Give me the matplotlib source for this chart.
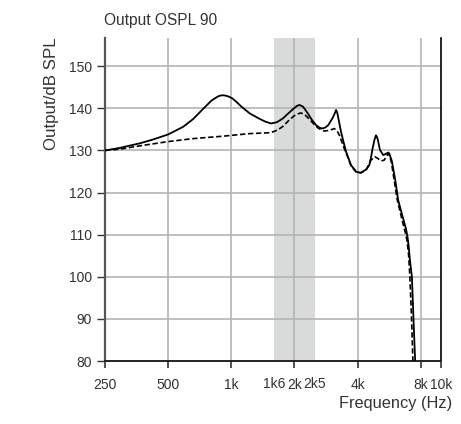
import matplotlib
matplotlib.use("Agg")
import matplotlib.pyplot as plt
from matplotlib.ticker import FixedLocator, FixedFormatter

# ---- data ----
freq_solid = [250, 294, 367, 424, 500, 589, 656, 732, 803, 862, 890, 920, 960, 1010, 1060,
              1118, 1224, 1365, 1460, 1552, 1650, 1762, 1880, 1990, 2060, 2115, 2200, 2316,
              2420, 2538, 2620, 2700, 2800, 2900, 3050, 3120, 3160, 3200, 3250, 3338, 3430,
              3527, 3725, 3950, 4155, 4400, 4550, 4640, 4720, 4820, 4897, 4950, 5000, 5117,
              5306, 5420, 5500, 5622, 5700, 5836, 6050, 6250, 6557, 6800, 6922, 7020, 7107,
              7265, 7393, 7530]
db_solid = [130.0, 130.6, 131.7, 132.6, 133.8, 135.6, 137.4, 139.8, 141.8, 142.8, 143.05,
            143.1, 142.9, 142.4, 141.5, 140.4, 138.8, 137.5, 136.8, 136.4, 136.7, 137.6,
            138.9, 140.0, 140.6, 140.8, 140.4, 138.8, 137.3, 136.0, 135.5, 135.2, 135.4,
            136.0, 137.8, 138.9, 139.6, 139.0, 137.3, 134.4, 132.0, 129.7, 126.5, 124.9,
            124.7, 125.5, 126.5, 128.4, 130.5, 132.6, 133.6, 133.2, 132.5, 130.1, 128.9,
            129.1, 129.3, 129.5, 128.9, 127.4, 123.0, 118.2, 114.3, 111.5, 109.5, 107.0,
            104.0, 100.0, 90.0, 80.0]

freq_dashed = [250, 294, 367, 500, 656, 920, 1224, 1523, 1600, 1680, 1762, 1870, 1990,
               2080, 2150, 2240, 2360, 2470, 2580, 2680, 2782, 2950, 3100, 3200, 3278,
               3478, 3600, 3725, 3950, 4155, 4400, 4636, 4840, 5000, 5170, 5360, 5500,
               5622, 5700, 5800, 6000, 6180, 6500, 6750, 6880, 7000, 7107, 7240, 7345]
db_dashed = [130.0, 130.3, 131.1, 132.1, 132.8, 133.4, 134.0, 134.2, 134.5, 135.0, 135.7,
             137.0, 138.2, 138.7, 138.9, 138.5, 137.4, 136.3, 135.4, 134.9, 134.6, 134.8,
             135.2, 134.6, 133.6, 130.1, 128.3, 126.3, 124.8, 124.7, 125.4, 127.7, 128.5,
             128.1, 127.5, 127.7, 128.6, 129.3, 128.6, 127.2, 122.5, 118.4, 113.8, 110.6,
             108.7, 105.5, 100.0, 90.0, 80.0]

band = [1600, 2500]
major_ticks = [250, 500, 1000, 2000, 4000, 8000, 10000]
major_labels = ["250", "500", "1k", "2k", "4k", "8k", "10k"]
minor_ticks = [1600, 2500]
minor_labels = ["1k6", "2k5"]
y_ticks = [80, 90, 100, 110, 120, 130, 140, 150]
grid_x = [500, 1000, 2000, 4000, 8000]

plt.rcParams['font.family'] = ['Liberation Sans Narrow', 'Liberation Sans', 'DejaVu Sans']
txt = '#333333'

W, H = 461, 424
fig = plt.figure(figsize=(W / 100, H / 100), dpi=100)
ax = fig.add_axes([105 / W, 1 - 361 / H, (441 - 105) / W, (361 - 38) / H])

ax.set_xscale('log')
ax.set_xlim(250, 10000)
ax.set_ylim(80, 156.7)

ax.axvspan(band[0], band[1], color='#d9dbdb', lw=0, zorder=0)
for g in grid_x:
    ax.axvline(g, color='#b4b4b4', lw=1.2, zorder=1)
for yv in y_ticks[1:]:
    ax.axhline(yv, color='#b4b4b4', lw=1.2, zorder=1)

ax.plot(freq_dashed, db_dashed, color='black', lw=1.2, ls=(0, (3.2, 1.6)), zorder=3)
ax.plot(freq_solid, db_solid, color='black', lw=1.3, zorder=4)

ax.xaxis.set_major_locator(FixedLocator(major_ticks))
ax.xaxis.set_major_formatter(FixedFormatter(major_labels))
ax.xaxis.set_minor_locator(FixedLocator(minor_ticks))
ax.xaxis.set_minor_formatter(FixedFormatter(minor_labels))
ax.set_yticks(y_ticks)
ax.set_yticklabels([str(v) for v in y_ticks])

ax.tick_params(axis='x', which='major', direction='out', length=5, width=1.2,
               color='#333333', labelsize=10, labelcolor=txt, pad=7)
ax.tick_params(axis='x', which='minor', length=0, labelsize=10, labelcolor=txt, pad=11.2)
ax.tick_params(axis='y', direction='out', length=5.5, width=1.0, color='#333333',
               labelsize=10, labelcolor=txt, pad=4)

ax.spines['top'].set_visible(False)
ax.spines['left'].set_color('#555555')
ax.spines['left'].set_linewidth(1.6)
ax.spines['bottom'].set_color('#222222')
ax.spines['bottom'].set_linewidth(1.4)
ax.spines['right'].set_color('black')
ax.spines['right'].set_linewidth(1.2)

fig.text(104 / W, 1 - 25 / H, "Output OSPL 90", ha='left', va='baseline',
         fontsize=11.2, color=txt, family=['Liberation Sans', 'DejaVu Sans'])
fig.text(59 / W, 1 - 37 / H, "Output/dB SPL", rotation=90, ha='right', va='top',
         fontsize=12.2, color=txt, family=['Liberation Sans', 'DejaVu Sans'])
fig.text(452 / W, 1 - 408 / H, "Frequency (Hz)", ha='right', va='baseline',
         fontsize=11.8, color=txt, family=['Liberation Sans', 'DejaVu Sans'])

fig.savefig("out.png", dpi=100)
